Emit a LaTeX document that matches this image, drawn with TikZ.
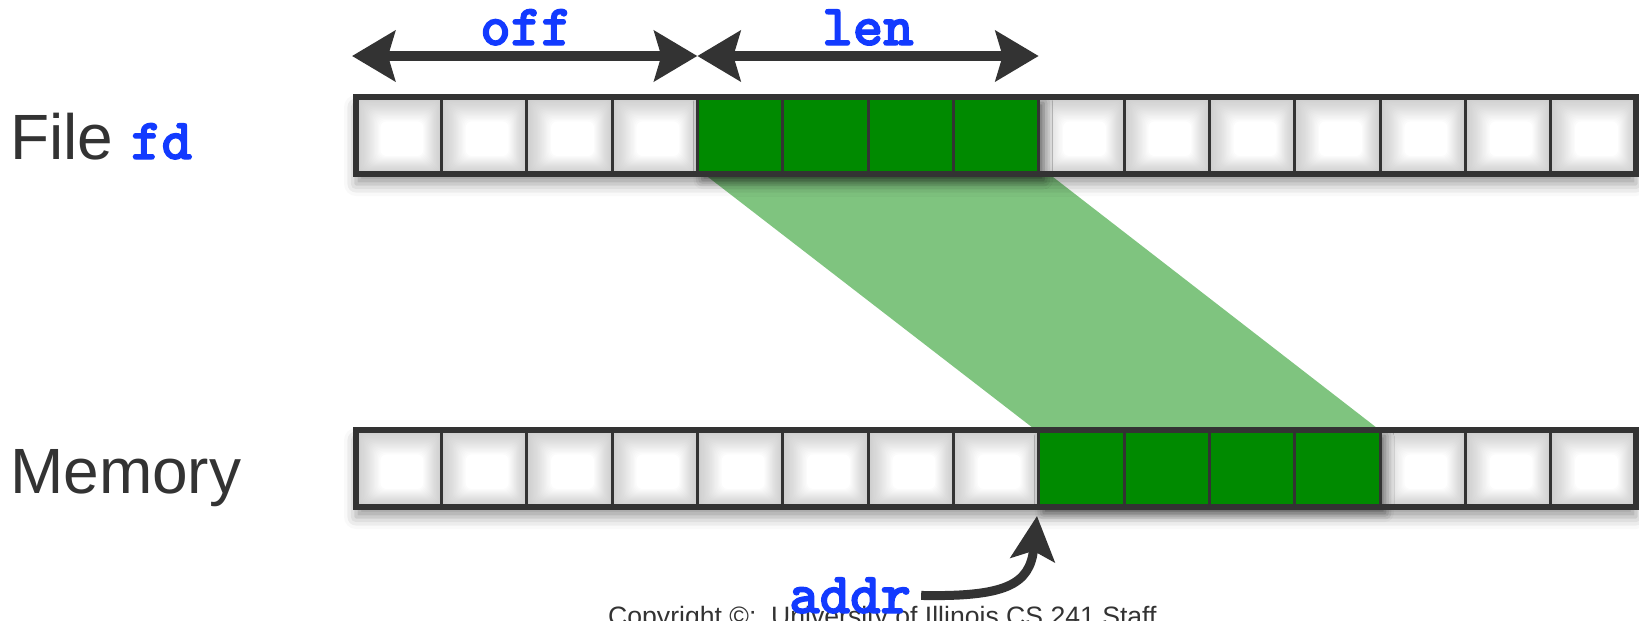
\documentclass[tikz,border=0pt]{standalone}
\usepackage{fontspec}
\setmainfont{Liberation Sans}
\newfontfamily\codefont{lmmonolt10-bold.otf}[FakeBold=2.2]
\usetikzlibrary{arrows.meta,shadows.blur,calc}

\definecolor{ink}{HTML}{333333}
\definecolor{codeblue}{RGB}{18,58,255}
\definecolor{blockgreen}{RGB}{0,138,0}

\newcommand\code[1]{{\fontsize{58}{62}\selectfont\codefont\color{codeblue}#1}}
\newcommand\cellw{85.333}

% One strip of 15 cells: #1 top, #2 bottom, #3 first green cell, #4 name prefix
\newcommand\drawstrip[4]{%
  % backing plate with its soft drop shadow
  \path[fill=black!19,
        blur shadow={shadow xshift=0pt,shadow yshift=-10pt,
                     shadow blur radius=12pt,shadow opacity=40}]
    (356,#1) rectangle (1636,#2);
  % white cells, shaded softly towards their edges
  \foreach \i in {0,...,14}{%
    \pgfmathsetmacro\xa{356+\i*\cellw}%
    \pgfmathsetmacro\xb{\xa+\cellw}%
    \foreach \k in {1,...,18}{%
      \pgfmathsetmacro\op{1/(19-\k)}%
      \fill[white,opacity=\op,rounded corners=6pt]
        (\xa+1+1.3*\k,#1+1+1.3*\k) rectangle (\xb-1*\k,#2-1*\k);
    }%
  }%
  % the four-cell green block
  \pgfmathsetmacro\ga{356+#3*\cellw}%
  \pgfmathsetmacro\gb{\ga+4*\cellw}%
  \fill[blockgreen,
        blur shadow={shadow xshift=5pt,shadow yshift=-6pt,
                     shadow blur radius=9pt,shadow opacity=50}]
    (\ga,#1) rectangle (\gb,#2);
  % cell dividers and outer frame
  \foreach \i in {1,...,14}{%
    \draw[ink,line width=3pt] (356+\i*\cellw,#1) -- (356+\i*\cellw,#2);
  }%
  \draw[ink,line width=6pt] (356,#1) rectangle (1636,#2);
  % named points on the top edge at every cell boundary
  \foreach \i in {0,...,15}{%
    \coordinate (#4-\i) at (356+\i*\cellw,#1);
  }%
}

\tikzset{
  label/.style={anchor=base west,inner sep=0pt,text=ink,
                font=\fontsize{64}{70}\selectfont},
  codelabel/.style={anchor=base,inner sep=0pt},
  span/.style={ink,line width=10pt,
               {Stealth[length=43pt,width=50pt,inset=7pt]}-{Stealth[length=43pt,width=50pt,inset=7pt]}},
  pointer/.style={ink,line width=9pt,
                  -{Stealth[length=44pt,width=44pt,inset=9pt]}},
}

\begin{document}
\begin{tikzpicture}[x=1pt,y=-1pt]
\useasboundingbox (0,0) rectangle (1639,621);

% mapped region between file and memory
\fill[blockgreen,opacity=0.5] (708,177) -- (1053,177) -- (1377,428) -- (1033,428) -- cycle;

% file strip and memory strip
\drawstrip{97}{174}{4}{file}
\drawstrip{430}{507}{8}{mem}

% row labels
\node[label] (filelabel) at (10,159) {File \code{fd}};
\node[label] (memlabel) at (10,493) {Memory};

% offset and length spans
\draw[span] ([xshift=-4pt,yshift=41pt]file-0) -- ([yshift=41pt]file-4);
\draw[span] ([yshift=41pt]file-4) -- ([yshift=41pt]file-8);
\node[codelabel] (off) at (526,45) {\code{off}};
\node[codelabel] (len) at (868,45) {\code{len}};

% footer
\node[anchor=base west,inner sep=0pt,text=ink,font=\fontsize{26.6}{30}\selectfont]
  (copy) at (608,625) {Copyright ©:\ \ University of Illinois CS 241 Staff};

% mapping address pointer
\node[anchor=base west,inner sep=0pt] (addr) at (789,613) {\code{addr}};
\coordinate (memtip) at (1037,516);
\draw[pointer] ([xshift=10pt]addr.east) .. controls (1005,597) and (1030,585) .. (memtip);
\end{tikzpicture}
\end{document}
